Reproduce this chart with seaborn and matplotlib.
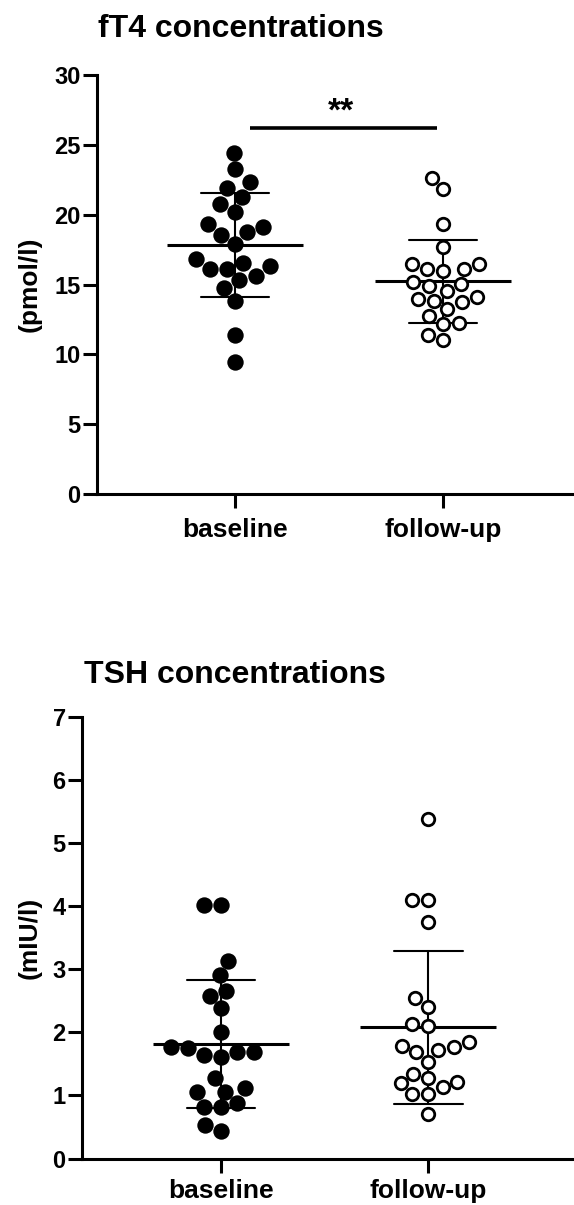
import numpy as np
import pandas as pd
import matplotlib
matplotlib.use("Agg")
import matplotlib.pyplot as plt
import seaborn as sns

# ---------------- data ----------------
groups = ["baseline", "follow-up"]

ft4_baseline = [24.45, 23.28, 22.33, 21.90, 21.30, 20.76, 20.23, 19.35, 19.11,
                18.76, 18.56, 17.92, 16.82, 16.54, 16.34, 16.11, 16.11, 15.63,
                15.30, 14.75, 13.84, 11.36, 9.43]
ft4_followup = [22.62, 21.83, 19.33, 17.66, 16.47, 16.47, 16.11, 16.11, 15.94,
                15.22, 15.04, 14.87, 14.51, 14.11, 13.96, 13.84, 13.72, 13.25,
                12.72, 12.20, 12.25, 11.41, 11.00]

tsh_baseline = [4.01, 4.01, 3.13, 2.90, 2.66, 2.58, 2.38, 2.00, 1.77, 1.75,
                1.69, 1.69, 1.64, 1.61, 1.27, 1.11, 1.06, 1.06, 0.88, 0.82,
                0.81, 0.53, 0.44]
tsh_followup = [5.38, 4.09, 4.09, 3.75, 2.54, 2.40, 2.13, 2.10, 1.84, 1.79,
                1.77, 1.72, 1.69, 1.53, 1.34, 1.27, 1.22, 1.19, 1.13, 1.02,
                1.02, 0.71]

ft4_ticks = [0, 5, 10, 15, 20, 25, 30]
tsh_ticks = [0, 1, 2, 3, 4, 5, 6, 7]

ft4_title = "fT4 concentrations"
tsh_title = "TSH concentrations"
ft4_ylabel = "(pmol/l)"
tsh_ylabel = "(mIU/l)"
sig_label = "**"

# ---------------- style ----------------
sns.set_theme(style="ticks")
plt.rcParams["font.family"] = ["Liberation Sans", "DejaVu Sans"]
plt.rcParams["font.weight"] = "bold"
plt.rcParams["axes.labelweight"] = "bold"
for key in ("text.color", "axes.labelcolor", "xtick.color", "ytick.color",
            "axes.edgecolor"):
    plt.rcParams[key] = "black"

W, H = 574, 1205
fig = plt.figure(figsize=(W / 100, H / 100), dpi=100)
fig.patch.set_facecolor("white")


def px_axes(left, top_px, bottom_px, right=W):
    return fig.add_axes([left / W, 1 - bottom_px / H,
                         (right - left) / W, (bottom_px - top_px) / H])


def make_df(base, follow):
    return pd.DataFrame({
        "group": [groups[0]] * len(base) + [groups[1]] * len(follow),
        "value": list(base) + list(follow),
    })


def draw_panel(ax, base, follow, ticks, ylabel, xlim, filled_size, open_size):
    df = make_df(base, follow)
    sns.swarmplot(data=df[df.group == groups[0]], x="group", y="value",
                  order=groups, color="black", size=filled_size,
                  linewidth=0, ax=ax)
    sns.swarmplot(data=df[df.group == groups[1]], x="group", y="value",
                  order=groups, color="white", edgecolor="black",
                  linewidth=2.0, size=open_size, ax=ax)
    sns.pointplot(data=df, x="group", y="value", order=groups,
                  errorbar="sd", capsize=0.33, color="black",
                  marker="_", markersize=98, markeredgewidth=2.2,
                  linestyle="none",
                  err_kws={"linewidth": 1.5, "color": "black"}, ax=ax)
    ax.set_xlim(*xlim)
    ax.set_ylim(ticks[0], ticks[-1])
    ax.set_yticks(ticks)
    ax.set_yticklabels([str(t) for t in ticks])
    ax.set_xticks([0, 1])
    ax.set_xticklabels(groups)
    ax.set_xlabel("")
    ax.set_ylabel(ylabel, fontsize=19, fontweight="bold", color="black")
    sns.despine(ax=ax)
    for s in ("left", "bottom"):
        ax.spines[s].set_linewidth(2.2)
        ax.spines[s].set_color("black")
    ax.tick_params(axis="both", length=10, width=2.2, color="black",
                   labelcolor="black", direction="out")
    ax.tick_params(axis="y", labelsize=17, pad=1.5)
    ax.tick_params(axis="x", labelsize=19, pad=7)
    for lab in ax.get_xticklabels() + ax.get_yticklabels():
        lab.set_fontweight("bold")
    ax.set_facecolor("white")


# ---------------- top panel: fT4 ----------------
ax1 = px_axes(96.5, 75, 494.2)
draw_panel(ax1, ft4_baseline, ft4_followup, ft4_ticks, ft4_ylabel,
           (-0.666, 1.630), 11.8, 9.0)
ax1.yaxis.set_label_coords(-0.114, 0.5)
ax1.plot([0.07, 0.97], [26.2, 26.2], color="black", lw=2.6,
         solid_capstyle="butt", clip_on=False)
ax1.text(0.51, 26.75, sig_label, ha="center", va="baseline",
         fontsize=24, fontweight="bold", color="black")
fig.text(98 / W, 1 - 29 / H, ft4_title, ha="left", va="center",
         fontsize=23, fontweight="bold", color="black")

# ---------------- bottom panel: TSH ----------------
ax2 = px_axes(81.7, 716.7, 1158.5)
draw_panel(ax2, tsh_baseline, tsh_followup, tsh_ticks, tsh_ylabel,
           (-0.670, 1.702), 11.8, 9.0)
ax2.yaxis.set_label_coords(-0.081, 0.5)
ax2.tick_params(axis="x", pad=5)
fig.text(83.5 / W, 1 - 675 / H, tsh_title, ha="left", va="center",
         fontsize=23, fontweight="bold", color="black")

fig.savefig("out.png", dpi=100, facecolor="white")
